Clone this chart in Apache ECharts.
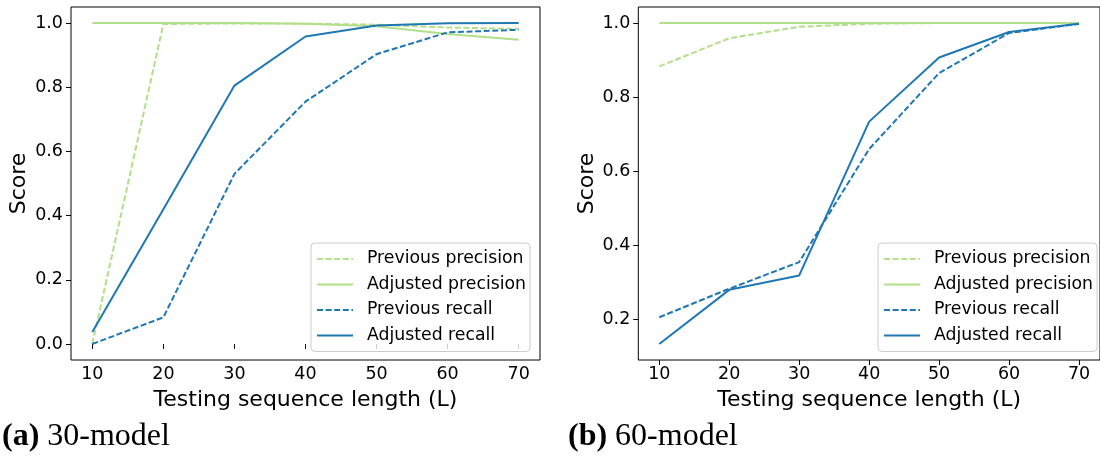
<!DOCTYPE html>
<html>
<head>
<meta charset="utf-8">
<script src="https://cdn.jsdelivr.net/npm/echarts@6/dist/echarts.min.js"></script>
<style>
  html, body { margin: 0; padding: 0; background: #fff; }
  #chart { width: 1100px; height: 457px; }
</style>
</head>
<body>
<div id="chart"></div>
<script>
// Testing sequence lengths (L)
const lengths = [10, 20, 30, 40, 50, 60, 70];

// (a) 30-model
const prevPrecisionA = [0.0, 0.997, 0.999, 0.998, 0.995, 0.986, 0.982];
const adjPrecisionA  = [1.0, 1.0, 1.0, 0.998, 0.990, 0.966, 0.948];
const prevRecallA    = [0.0, 0.083, 0.530, 0.755, 0.903, 0.971, 0.979];
const adjRecallA     = [0.037, 0.420, 0.805, 0.958, 0.992, 0.999, 1.0];

// (b) 60-model
const prevPrecisionB = [0.883, 0.959, 0.990, 0.998, 1.0, 1.0, 1.0];
const adjPrecisionB  = [1.0, 1.0, 1.0, 1.0, 1.0, 1.0, 1.0];
const prevRecallB    = [0.206, 0.283, 0.355, 0.660, 0.865, 0.973, 0.998];
const adjRecallB     = [0.134, 0.280, 0.319, 0.734, 0.907, 0.976, 0.998];

// Tick labels
const xTicks  = [10, 20, 30, 40, 50, 60, 70];
const yTicksA = [0.0, 0.2, 0.4, 0.6, 0.8, 1.0];
const yTicksB = [0.2, 0.4, 0.6, 0.8, 1.0];

const seriesNames = ['Previous precision', 'Adjusted precision', 'Previous recall', 'Adjusted recall'];
const captions = [['(a)', '30-model'], ['(b)', '60-model']];

const GREEN = '#b2df8a';
const BLUE = '#1f78b4';
const SANS = '"DejaVu Sans", sans-serif';
const SERIF = '"Liberation Serif", "DejaVu Serif", serif';

// axis extents padded by 5% of the data span on each side
function padded(values) {
  const lo = Math.min(...values), hi = Math.max(...values);
  const m = (hi - lo) * 0.05;
  return [lo - m, hi + m];
}
const xExt = padded(lengths);
const yExtA = padded([].concat(prevPrecisionA, adjPrecisionA, prevRecallA, adjRecallA));
const yExtB = padded([].concat(prevPrecisionB, adjPrecisionB, prevRecallB, adjRecallB));

const pts = arr => arr.map((v, i) => [lengths[i], v]);

function xAxisFor(grid) {
  return {
    type: 'value', gridIndex: grid, min: xExt[0], max: xExt[1],
    name: 'Testing sequence length (L)', nameLocation: 'middle', nameGap: 29,
    nameTextStyle: { fontFamily: SANS, fontSize: 22, color: '#000' },
    axisLine: { show: false },
    axisTick: { show: true, length: 5, customValues: xTicks, lineStyle: { color: '#000', width: 1 } },
    axisLabel: { customValues: xTicks, margin: 5, fontFamily: SANS, fontSize: 17.5, color: '#000' },
    splitLine: { show: false }
  };
}
function yAxisFor(grid, ext, ticks) {
  return {
    type: 'value', gridIndex: grid, min: ext[0], max: ext[1],
    name: 'Score', nameLocation: 'middle', nameGap: 40.5,
    nameTextStyle: { fontFamily: SANS, fontSize: 22, color: '#000' },
    axisLine: { show: false },
    axisTick: { show: true, length: 5, customValues: ticks, lineStyle: { color: '#000', width: 1 } },
    axisLabel: { customValues: ticks, margin: 8, fontFamily: SANS, fontSize: 17.5, color: '#000',
                 formatter: v => v.toFixed(1) },
    splitLine: { show: false }
  };
}

function lineSeries(name, grid, data, color, dashed) {
  return {
    type: 'line', name: name, xAxisIndex: grid, yAxisIndex: grid,
    data: pts(data), symbol: 'none', silent: true, animation: false,
    lineStyle: { color: color, width: 2, type: dashed ? [6, 2.6] : 'solid' },
    itemStyle: { color: color }
  };
}

function legendFor(left) {
  return {
    data: seriesNames, orient: 'vertical', left: left, top: 243,
    itemWidth: 36, itemHeight: 14, itemGap: 5.5,
    padding: [6, 4, 6, 5],
    backgroundColor: 'rgba(255,255,255,0.8)', borderColor: '#cccccc', borderWidth: 1, borderRadius: 4,
    selectedMode: false,
    itemStyle: { opacity: 0 },
    textStyle: { fontFamily: SANS, fontSize: 17.3, color: '#000', lineHeight: 20, padding: [0, 0, 0, 9] }
  };
}

function caption(x, parts) {
  return {
    type: 'text', x: x, y: 437,
    style: {
      text: '{b|' + parts[0] + '} ' + parts[1],
      fontFamily: SERIF, fontSize: 32, fill: '#000', verticalAlign: 'middle',
      rich: { b: { fontFamily: SERIF, fontSize: 32, fontWeight: 'bold', fill: '#000' } }
    }
  };
}

const chart = echarts.init(document.getElementById('chart'), null, { renderer: 'canvas' });
chart.setOption({
  animation: false,
  backgroundColor: '#fff',
  grid: [
    { left: 71, top: 7, width: 469, height: 353, show: true, borderColor: '#000', borderWidth: 1, backgroundColor: 'transparent' },
    { left: 638.3, top: 7, width: 469, height: 353, show: true, borderColor: '#000', borderWidth: 1, backgroundColor: 'transparent' }
  ],
  xAxis: [xAxisFor(0), xAxisFor(1)],
  yAxis: [yAxisFor(0, yExtA, yTicksA), yAxisFor(1, yExtB, yTicksB)],
  legend: [legendFor(311), legendFor(878)],
  series: [
    lineSeries(seriesNames[0], 0, prevPrecisionA, GREEN, true),
    lineSeries(seriesNames[1], 0, adjPrecisionA, GREEN, false),
    lineSeries(seriesNames[2], 0, prevRecallA, BLUE, true),
    lineSeries(seriesNames[3], 0, adjRecallA, BLUE, false),
    lineSeries(seriesNames[0], 1, prevPrecisionB, GREEN, true),
    lineSeries(seriesNames[1], 1, adjPrecisionB, GREEN, false),
    lineSeries(seriesNames[2], 1, prevRecallB, BLUE, true),
    lineSeries(seriesNames[3], 1, adjRecallB, BLUE, false)
  ],
  graphic: [caption(2, captions[0]), caption(568, captions[1])]
});
</script>
</body>
</html>
